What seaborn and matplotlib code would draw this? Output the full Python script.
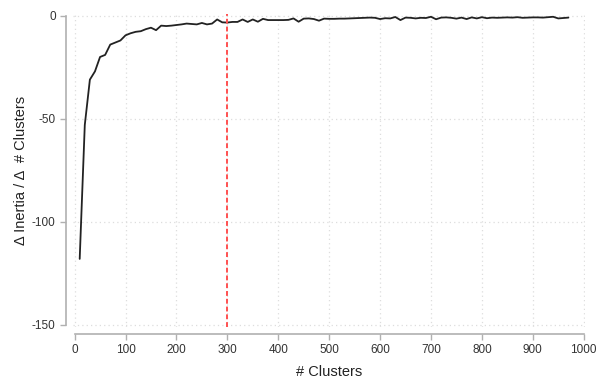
import matplotlib.pyplot as plt
import seaborn as sns
import pandas as pd

# Cluster count vs. change in inertia per added cluster
clusters = list(range(10, 980, 10))
delta_inertia = [
    -118, -53, -31, -27, -20, -19, -14, -13, -12, -9.5,
    -8.5, -7.8, -7.5, -6.5, -5.8, -7.0, -4.8, -5.0, -4.8, -4.5,
    -4.2, -3.8, -4.0, -4.2, -3.5, -4.2, -3.8, -1.8, -3.2, -3.3,
    -3.0, -3.0, -1.8, -3.0, -1.8, -2.9, -1.5, -2.1, -2.1, -2.1,
    -2.1, -2.0, -1.3, -2.9, -1.4, -1.3, -1.6, -2.4, -1.4, -1.5,
    -1.5, -1.4, -1.4, -1.3, -1.2, -1.1, -1.0, -0.9, -1.0, -1.6,
    -1.2, -1.3, -0.6, -2.1, -0.9, -1.0, -1.3, -1.0, -1.1, -0.5,
    -1.7, -0.9, -0.8, -1.0, -1.4, -0.9, -1.6, -0.8, -1.3, -0.7,
    -1.2, -0.9, -1.0, -0.9, -0.8, -0.9, -0.7, -1.0, -0.9, -0.8,
    -0.8, -0.9, -0.7, -0.5, -1.3, -1.1, -0.9,
]
df = pd.DataFrame({"clusters": clusters, "delta": delta_inertia})

sns.set_theme(style="white")
plt.rcParams["font.family"] = ["Liberation Sans", "DejaVu Sans"]
plt.rcParams["axes.unicode_minus"] = False

fig = plt.figure(figsize=(5.99, 3.81), dpi=100)
ax = fig.add_axes([0.122, 0.142, 0.855, 0.821])

sns.lineplot(data=df, x="clusters", y="delta", color="#222222", linewidth=1.3, ax=ax)
ax.axvline(300, color="#ff5050", linestyle=(0, (2.5, 1.5)), linewidth=1.4)

ax.set_xlim(-3, 1003)
ax.set_ylim(-151, 0.8)
ax.set_xticks(range(0, 1001, 100))
ax.set_yticks([-150, -100, -50, 0])

ax.grid(True, color="#dddddd", linestyle=(0, (1, 2.5)), linewidth=0.9)
ax.set_xlabel("# Clusters", fontsize=10.5, color="#222222", labelpad=6)
ax.set_ylabel("Δ Inertia / Δ  # Clusters", fontsize=10.5, color="#222222", labelpad=3)

for side in ["left", "bottom"]:
    ax.spines[side].set_color("#b0b0b0")
    ax.spines[side].set_linewidth(1.2)
ax.tick_params(axis="both", colors="#b0b0b0", labelcolor="#333333",
               labelsize=8.5, length=4, width=1.0, direction="out",
               left=True, bottom=True)

sns.despine(ax=ax, offset=5, trim=True)

plt.savefig("out.png", dpi=100)
plt.close()
